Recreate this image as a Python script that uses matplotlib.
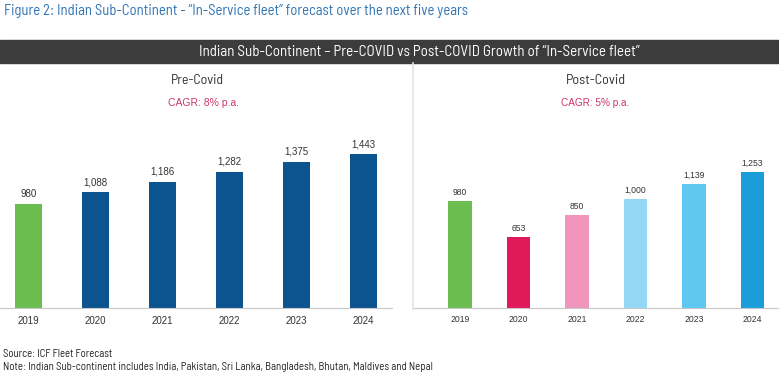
import matplotlib
matplotlib.use("Agg")
import matplotlib.pyplot as plt
from matplotlib import font_manager
from matplotlib.font_manager import FontProperties

# data
years = ['2019', '2020', '2021', '2022', '2023', '2024']
pre_covid = [980, 1088, 1186, 1282, 1375, 1443]
post_covid = [980, 653, 850, 1000, 1139, 1253]
pre_colors = ['#6cbd4f', '#0b5490', '#0b5490', '#0b5490', '#0b5490', '#0b5490']
post_colors = ['#6cbd4f', '#e0195a', '#f195bd', '#94d8f6', '#5ec8f1', '#1b9dd9']
pre_cagr = 'CAGR: 8% p.a.'
post_cagr = 'CAGR: 5% p.a.'

# look for a narrow face for the headings, else plain Liberation Sans
plain = 'Liberation Sans'
cands = []
for f in font_manager.fontManager.ttflist:
    narrowish = ('Condensed' in f.name or 'Narrow' in f.name
                 or f.stretch in ('condensed', 'semi-condensed', 'extra-condensed'))
    if narrowish and f.style == 'normal' and f.weight in (400, 'normal', 'regular'):
        rank = 0 if f.stretch == 'semi-condensed' or 'SemiCondensed' in f.fname else 1
        cands.append((rank, f.fname))
cands.sort()
if cands:
    nprop = FontProperties(fname=cands[0][1])
else:
    nprop = FontProperties(family=plain)

W, H = 779, 374
fig = plt.figure(figsize=(W / 100, H / 100), dpi=100)
renderer = fig.canvas.get_renderer()


def px(x0, y0, x1, y1):
    # pixel box (top-left origin) -> figure fraction rect
    return [x0 / W, 1 - y1 / H, (x1 - x0) / W, (y1 - y0) / H]


def ntext(x, y, s, width, **kw):
    # heading text in the narrow face, sized to the reference width
    t = fig.text(x / W, 1 - y / H, s, fontproperties=nprop.copy(), va='center', **kw)
    t.set_fontsize(10)
    bb = t.get_window_extent(renderer)
    t.set_fontsize(10 * width / bb.width)
    return t


def ptext(x, y, s, width, **kw):
    t = fig.text(x / W, 1 - y / H, s, family=plain, fontsize=8, va='center', **kw)
    bb = t.get_window_extent(renderer)
    t.set_fontsize(8 * width / bb.width)
    return t


# top caption
ntext(4, 11, 'Figure 2: Indian Sub-Continent - \u201cIn-Service fleet\u201d forecast over the next five years',
      466, color='#2e73b5', ha='left')

# dark header band
fig.patches.append(plt.Rectangle((0, 1 - 63 / H), 1, 23 / H, transform=fig.transFigure,
                                 color='#3c3c3c', zorder=0))
ntext(419, 51.5, 'Indian Sub-Continent \u2013 Pre-COVID vs Post-COVID Growth of \u201cIn-Service fleet\u201d',
      442, color='white', ha='center')

# divider
fig.lines.append(plt.Line2D([413.5 / W, 413.5 / W], [1 - 63 / H, 1 - 309 / H],
                            transform=fig.transFigure, color='#e3e3e3', lw=1.2))

# left panel
ax1 = fig.add_axes(px(0, 63, 392, 308))
x = range(len(years))
ax1.bar(x, pre_covid, width=0.40, color=pre_colors)
ax1.set_xlim(-28.5 / 67, (392 - 28.5) / 67)
ax1.set_ylim(0, 245 * 9.4)
for i, v in enumerate(pre_covid):
    ax1.annotate(f'{v:,}', (i, v), xytext=(0, 3.5), textcoords='offset points',
                 ha='center', va='bottom', fontsize=7, family=plain, color='#333333')

# right panel
ax2 = fig.add_axes(px(413, 63, 779, 308))
ax2.bar(x, post_covid, width=0.41, color=post_colors)
ax2.set_xlim(-(460 - 413) / 58.5, (779 - 460) / 58.5)
ax2.set_ylim(0, 245 * 9.18)
for i, v in enumerate(post_covid):
    ax2.annotate(f'{v:,}', (i, v), xytext=(0, 3), textcoords='offset points',
                 ha='center', va='bottom', fontsize=6.2, family=plain, color='#333333')

for ax, fs, pad in [(ax1, 7, 6), (ax2, 6.2, 4.7)]:
    ax.set_xticks(list(x))
    ax.set_xticklabels(years, fontsize=fs, color='#333333', family=plain)
    ax.tick_params(axis='x', length=0, pad=pad)
    ax.set_yticks([])
    for s in ['top', 'left', 'right']:
        ax.spines[s].set_visible(False)
    ax.spines['bottom'].set_color('#c8c8c8')
    ax.patch.set_alpha(0)

# panel titles
ntext(197.5, 81, 'Pre-Covid', 53, color='#333333', ha='center')
ptext(203.5, 103, pre_cagr, 71, color='#d1366a', ha='center')
ntext(596, 81, 'Post-Covid', 60, color='#333333', ha='center')
ptext(595, 103, post_cagr, 68, color='#d1366a', ha='center')

# footnotes
ntext(3, 354, 'Source: ICF Fleet Forecast', 110, color='#222222', ha='left')
ntext(3, 367, 'Note: Indian Sub-continent includes India, Pakistan, Sri Lanka, Bangladesh, Bhutan, Maldives and Nepal',
      433, color='#222222', ha='left')

fig.savefig('out.png', dpi=100)
